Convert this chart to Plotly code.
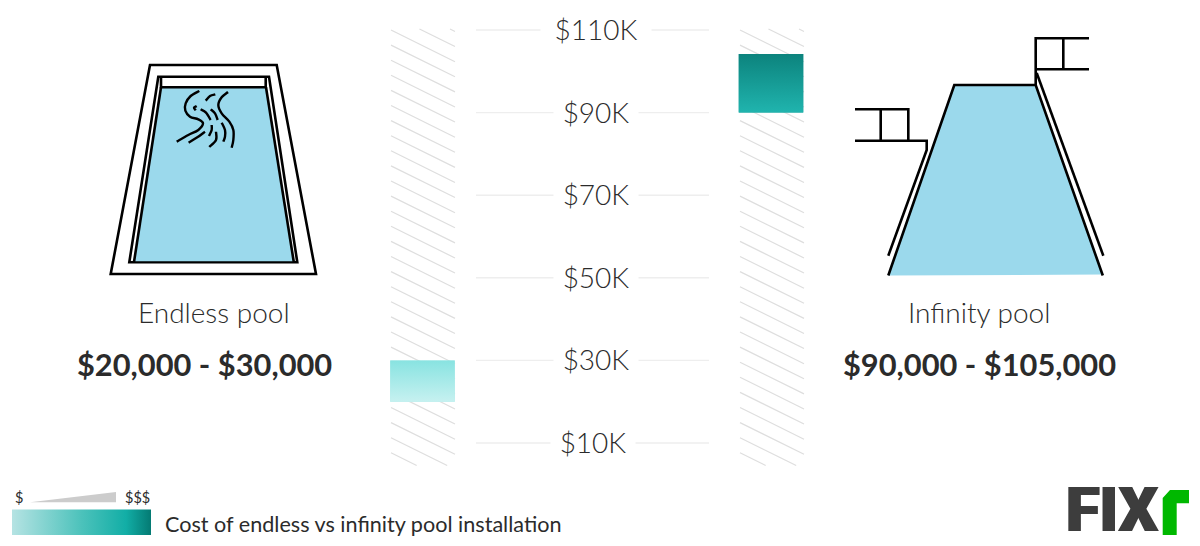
import plotly.graph_objects as go

# ---- data ----
pools = ["Endless pool", "Infinity pool"]
range_labels = ["$20,000 - $30,000", "$90,000 - $105,000"]
cost_low = [20, 90]
cost_high = [30, 104.2]   # top edge as drawn in the picture
tick_values = [110, 90, 70, 50, 30, 10]
tick_labels = ["$110K", "$90K", "$70K", "$50K", "$30K", "$10K"]
legend_title = "Cost of endless vs infinity pool installation"

W, H = 1200, 546
def X(px): return px / W
def Y(py): return 1 - py / H

PX_PER_K = 4.13
Y_TOP = 110 + 30 / PX_PER_K
Y_BOT = 110 - (546 - 30) / PX_PER_K
PX_PER_CAT = 348.5
CAT0 = 422.5
BAR_W = 64.5 / PX_PER_CAT

shapes = []

def poly(points, fill=None, color="#000", width=2.6, closed=False):
    d = "M " + " L ".join(f"{X(a):.5f},{Y(b):.5f}" for a, b in points) + (" Z" if closed else "")
    s = dict(type="path", xref="paper", yref="paper", path=d, layer="above",
             line=dict(color=color, width=width))
    if not width:
        s["line"] = dict(width=0)
    if fill:
        s["fillcolor"] = fill
    shapes.append(s)

def curve(points, color="#000", width=2.4):
    # smooth line through the points (Catmull-Rom to Bezier)
    pts = [points[0]] + list(points) + [points[-1]]
    d = f"M {X(pts[1][0]):.5f},{Y(pts[1][1]):.5f}"
    for i in range(1, len(pts) - 2):
        p0, p1, p2, p3 = pts[i - 1], pts[i], pts[i + 1], pts[i + 2]
        c1 = (p1[0] + (p2[0] - p0[0]) / 6, p1[1] + (p2[1] - p0[1]) / 6)
        c2 = (p2[0] - (p3[0] - p1[0]) / 6, p2[1] - (p3[1] - p1[1]) / 6)
        d += f" C {X(c1[0]):.5f},{Y(c1[1]):.5f} {X(c2[0]):.5f},{Y(c2[1]):.5f} {X(p2[0]):.5f},{Y(p2[1]):.5f}"
    shapes.append(dict(type="path", xref="paper", yref="paper", path=d, layer="above",
                       line=dict(color=color, width=width)))

# ---- hatched columns behind the bars ----
HATCH = "#dedede"
for x0 in (391, 740):
    for k in range(-2, 29):
        y0 = 30 + 15.1 * k
        x1, y1 = x0 + 64, y0 + 64 * 0.495
        xa, ya = x0, y0
        if ya < 29:
            xa, ya = x0 + (29 - y0) / 0.495, 29
        if y1 > 465.5:
            x1, y1 = x0 + (465.5 - y0) / 0.495, 465.5
        shapes.append(dict(type="line", xref="paper", yref="paper", layer="below",
                           x0=X(xa), y0=Y(ya), x1=X(x1), y1=Y(y1),
                           line=dict(color=HATCH, width=1.2)))

# ---- gridlines ----
for v in tick_values:
    shapes.append(dict(type="line", xref="paper", yref="y", layer="below",
                       x0=X(476), x1=X(709), y0=v, y1=v,
                       line=dict(color="#eeeeee", width=1.4)))

# ---- endless pool icon ----
WATER = "#9bd9ec"
poly([(150, 65), (276.7, 65), (316, 274), (110.7, 274)], closed=True)
poly([(158.3, 76.7), (269, 76.7), (297.3, 262.3), (129.3, 262.3)], closed=True)
poly([(161.5, 87.3), (265.7, 87.3), (293.5, 261.3), (134.5, 261.3)], fill=WATER, width=0, closed=True)
poly([(161, 77), (161, 87.3), (265.7, 87.3), (265.7, 77)])
poly([(161, 87.3), (134, 262)])
poly([(266, 87.3), (293.8, 262)])
Z = lambda pts: [(170 + a / 3, 80 + b / 3) for a, b in pts]
curve(Z([(88, 33), (62, 48), (47, 70), (46, 92), (60, 110), (85, 118), (99, 130), (85, 150), (55, 165), (20, 185)]))
curve(Z([(136, 43), (120, 48), (107, 62)]))
curve(Z([(174, 36), (155, 52), (145, 75), (155, 100), (178, 125), (190, 150), (190, 180), (185, 203)]))
curve(Z([(80, 78), (72, 83), (77, 91)]))
curve(Z([(92, 88), (108, 98), (122, 120)]))
curve(Z([(122, 88), (135, 100), (143, 120)]))
curve(Z([(105, 155), (82, 172), (56, 188)]))
curve(Z([(125, 135), (125, 150), (117, 168)]))
curve(Z([(138, 155), (138, 180), (118, 201)]))
curve(Z([(155, 128), (165, 150), (165, 170), (160, 185)]))

# ---- infinity pool icon ----
poly([(954.3, 85), (1035.7, 85), (1102.5, 274.5), (888.3, 275.5)], fill=WATER, width=0, closed=True)
poly([(888.3, 275.5), (954.3, 85), (1035.7, 85), (1102.8, 275.5)])
poly([(888.3, 255.7), (926.7, 150), (926.7, 140.7), (855, 140.7)])
poly([(855, 109.3), (908.3, 109.3), (908.3, 140.7)])
poly([(880.7, 109.3), (880.7, 140.7)])
poly([(1103.3, 255.7), (1036.7, 73)])
poly([(1089, 38.3), (1035.7, 38.3), (1035.7, 85)])
poly([(1035.7, 69.3), (1089, 69.3)])
poly([(1063.3, 38.3), (1063.3, 69.3)])

# ---- legend wedge and logo mark ----
poly([(30, 502.3), (116, 492), (116, 502.3)], fill="#cccccc", width=0, closed=True)
poly([(1162.7, 535), (1162.7, 498), (1170, 490), (1189, 490), (1189, 503.3), (1176.7, 503.3), (1176.7, 535)],
     fill="#00b800", width=0, closed=True)

fig = go.Figure()

# ---- cost bars ----
xs = [0, 1]
fig.add_trace(go.Bar(
    x=xs, y=[h - l for l, h in zip(cost_low, cost_high)], base=cost_low, width=BAR_W,
    marker=dict(color=["#a8e9e8", "#169c96"], line=dict(width=0)),
    hovertext=pools, hoverinfo="text", xaxis="x", yaxis="y", showlegend=False))
grads = [[[0, "#c6f1f0"], [1, "#88e3e1"]], [[0, "#20b4ae"], [1, "#0c837d"]]]
for i in xs:
    a, b = i - BAR_W / 2, i + BAR_W / 2
    fig.add_trace(go.Scatter(
        x=[a, b, b, a, a], y=[cost_low[i], cost_low[i], cost_high[i], cost_high[i], cost_low[i]],
        mode="lines", line=dict(width=0), fill="toself",
        fillgradient=dict(type="vertical", colorscale=grads[i]),
        hoverinfo="skip", xaxis="x", yaxis="y", showlegend=False))

# ---- legend gradient bar, in pixel axes ----
fig.add_trace(go.Scatter(
    x=[12, 151, 151, 12, 12], y=[509.5, 509.5, 535, 535, 509.5],
    mode="lines", line=dict(width=0), fill="toself",
    fillgradient=dict(type="horizontal", colorscale=[
        [0, "#b5e3e3"], [0.5, "#4cc2bb"], [0.82, "#12aea6"], [1, "#047a73"]]),
    hoverinfo="skip", xaxis="x2", yaxis="y2", showlegend=False))

# ---- logo wordmark ----
fig.add_trace(go.Scatter(
    x=[1112], y=[516], mode="text", text=["FIX"], textposition="middle center",
    textfont=dict(family="Roboto", size=61.5, color="#3d3d3d", weight=900,
                  shadow="1px 0 0 #3d3d3d, -1px 0 0 #3d3d3d"),
    hoverinfo="skip", xaxis="x2", yaxis="y2", showlegend=False, cliponaxis=False))

# ---- text ----
TXT = "#2b2b2b"
FONT = "Lato"
ann = []
def text(s, x, y, size, weight=400, anchor="center", color=TXT, family=FONT):
    f = dict(family=family, size=size, color=color, weight=weight)
    ann.append(dict(text=s, xref="paper", yref="paper", x=X(x), y=Y(y), xanchor=anchor,
                    yanchor="middle", showarrow=False, font=f))

tick_gap = [108, 82, 82, 82, 82, 82]
tick_cx = [595.5, 595.5, 595.5, 595.5, 595.5, 592.5]
for v, lab, g, cx in zip(tick_values, tick_labels, tick_gap, tick_cx):
    ann.append(dict(text=lab, xref="paper", yref="y", x=X(cx), y=v, xanchor="center", yanchor="middle",
                    showarrow=False, bgcolor="#ffffff", width=g, height=30, align="center", yshift=1,
                    font=dict(family=FONT, size=28, color=TXT, weight=300)))

text(pools[0], 214, 311.5, 28, 300)
text(range_labels[0], 204.5, 364, 30.8, 700)
text(pools[1], 979, 311.5, 28, 300)
text(range_labels[1], 979, 364, 30.8, 700)
text("$", 18.5, 497.5, 14.5)
text("$$$", 137.5, 497.5, 14.5)
text(legend_title, 162.5, 523.5, 21.6, anchor="left")

fig.update_layout(
    width=W, height=H,
    autosize=False,
    paper_bgcolor="#ffffff", plot_bgcolor="rgba(0,0,0,0)",
    margin=dict(l=0, r=0, t=0, b=0),
    barmode="overlay",
    showlegend=False,
    shapes=shapes,
    annotations=ann,
    xaxis=dict(range=[-CAT0 / PX_PER_CAT, (W - CAT0) / PX_PER_CAT], visible=False, fixedrange=True),
    yaxis=dict(range=[Y_BOT, Y_TOP], visible=False, fixedrange=True),
    xaxis2=dict(range=[0, W], visible=False, overlaying="x", fixedrange=True),
    yaxis2=dict(range=[H, 0], visible=False, overlaying="y", fixedrange=True),
)
fig.write_html("out.html", config=dict(displayModeBar=False),
               post_script="document.body.style.margin='0';document.body.style.overflow='hidden';")
